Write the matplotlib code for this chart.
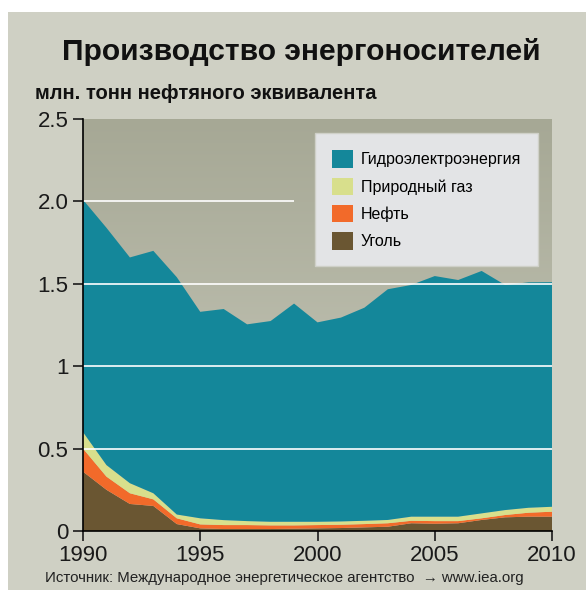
import numpy as np
import matplotlib.pyplot as plt
from matplotlib.patches import Rectangle, Patch

plt.rcParams['font.family'] = ['Liberation Sans', 'DejaVu Sans']

years = list(range(1990, 2011))
# stacked layer tops read as cumulative levels, converted to layers below
coal = [0.36, 0.25, 0.164, 0.152, 0.042, 0.016, 0.012, 0.012, 0.012, 0.014, 0.016,
        0.018, 0.022, 0.026, 0.047, 0.044, 0.047, 0.067, 0.083, 0.087, 0.087]
oil_top = [0.50, 0.33, 0.229, 0.192, 0.077, 0.040, 0.036, 0.036, 0.034, 0.034, 0.036,
           0.038, 0.042, 0.047, 0.062, 0.060, 0.060, 0.077, 0.097, 0.111, 0.117]
gas_top = [0.60, 0.40, 0.29, 0.229, 0.10, 0.077, 0.066, 0.060, 0.056, 0.056, 0.056,
           0.058, 0.062, 0.067, 0.087, 0.087, 0.087, 0.107, 0.127, 0.141, 0.147]
total = [2.01, 1.84, 1.66, 1.70, 1.54, 1.33, 1.347, 1.254, 1.274, 1.38, 1.266,
         1.295, 1.355, 1.467, 1.493, 1.547, 1.523, 1.578, 1.493, 1.509, 1.51]

oil = [o - c for o, c in zip(oil_top, coal)]
gas = [g - o for g, o in zip(gas_top, oil_top)]
hydro = [t - g for t, g in zip(total, gas_top)]

labels = ['Гидроэлектроэнергия', 'Природный газ', 'Нефть', 'Уголь']
colors = ['#14879a', '#d8df8c', '#f26a2a', '#6a5632']

fig = plt.figure(figsize=(5.86, 5.90), dpi=100, facecolor='white')
fig.patches.append(Rectangle((8 / 586, 0), 1, (590 - 12) / 590, transform=fig.transFigure,
                             facecolor='#cfd0c4', edgecolor='none', zorder=-10))

ax = fig.add_axes([83 / 586, 59 / 590, 469 / 586, 412 / 590])
ax.set_facecolor('none')

# vertical gradient behind the plot
grad = np.linspace(0, 1, 256).reshape(-1, 1)
ax.imshow(grad, extent=[1990, 2010, 0, 2.5], aspect='auto', origin='upper',
          cmap=plt.matplotlib.colors.LinearSegmentedColormap.from_list(
              'bg', ['#a6a895', '#cacbbd']), zorder=0)

ax.stackplot(years, coal, oil, gas, hydro,
             colors=[colors[3], colors[2], colors[1], colors[0]], zorder=1, linewidth=0)

for lvl in [0.5, 1.0, 1.5]:
    ax.hlines(lvl, 1990, 2010, colors='white', linewidth=1.2, zorder=2)
ax.hlines(2.0, 1990, 1999, colors='white', linewidth=1.2, zorder=2)

ax.set_xlim(1990, 2010)
ax.set_ylim(0, 2.5)
ax.set_xticks([1990, 1995, 2000, 2005, 2010])
ax.set_yticks([0, 0.5, 1, 1.5, 2, 2.5])
ax.set_yticklabels(['0', '0.5', '1', '1.5', '2.0', '2.5'])
ax.tick_params(axis='both', labelsize=16, length=7, width=1.2, colors='#1a1a1a')
ax.tick_params(axis='x', pad=3)
for side in ['top', 'right']:
    ax.spines[side].set_visible(False)
for side in ['left', 'bottom']:
    ax.spines[side].set_linewidth(1.2)
    ax.spines[side].set_zorder(3)

handles = [Patch(facecolor=c, edgecolor='none') for c in colors]
leg = ax.legend(handles, labels, loc='upper right', bbox_to_anchor=(0.970, 0.965),
                fontsize=11.5, frameon=True, fancybox=False, framealpha=1,
                handlelength=1.3, handleheight=1.3, borderpad=1.05, labelspacing=0.62,
                handletextpad=0.5, borderaxespad=0)
leg.get_frame().set_facecolor('#e3e4e6')
leg.get_frame().set_edgecolor('#cfd0c8')
leg.set_zorder(5)

fig.text(301 / 586, 1 - 52 / 590, 'Производство энергоносителей', ha='center', va='center',
         fontsize=21.6, fontweight='bold', color='#111111')
fig.text(35 / 586, 1 - 94 / 590, 'млн. тонн нефтяного эквивалента', ha='left', va='center',
         fontsize=14.5, fontweight='bold', color='#111111')
fig.text(45 / 586, 1 - 578 / 590,
         'Источник: Международное энергетическое агентство  \u2192 www.iea.org',
         ha='left', va='center', fontsize=10.8, color='#222222')

fig.savefig('out.png', dpi=100, facecolor=fig.get_facecolor())
